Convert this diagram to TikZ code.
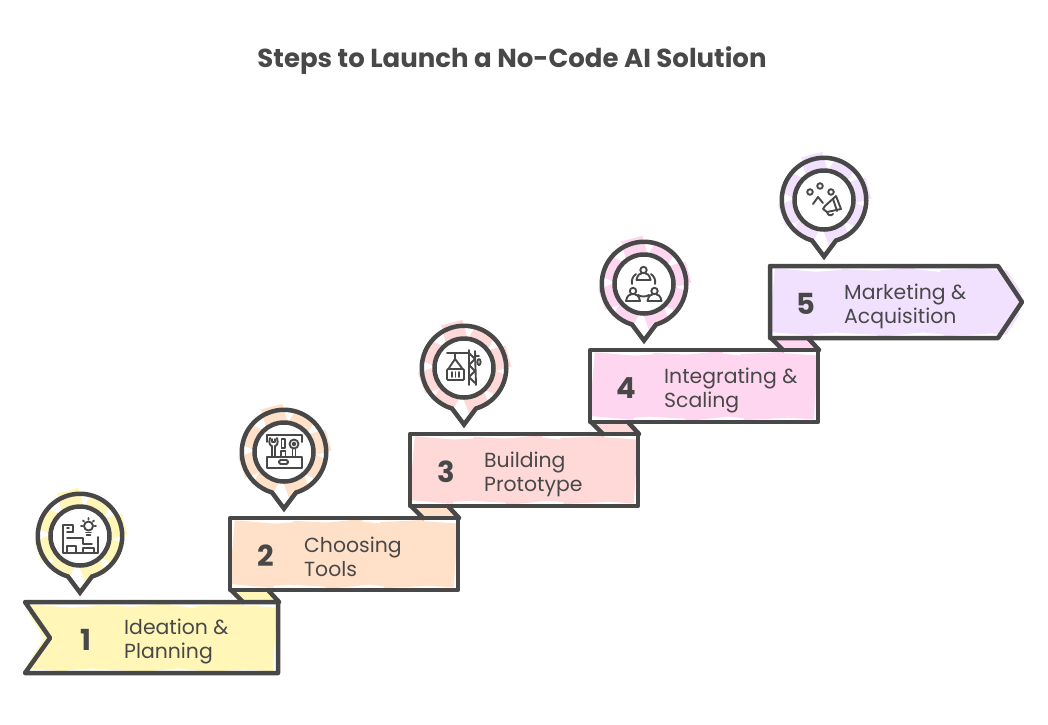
\documentclass[tikz,border=0pt]{standalone}
\usepackage{fontspec}
\setmainfont{Poppins}
\definecolor{ink}{HTML}{484848}
\definecolor{cA}{HTML}{FFF6B8}
\definecolor{cB}{HTML}{FFE0C8}
\definecolor{cC}{HTML}{FFD8D8}
\definecolor{cD}{HTML}{FFD6F0}
\definecolor{cE}{HTML}{F2E0FF}
\tikzset{
  x=1pt,y=-1pt,
  outline/.style={draw=ink,line width=4.5pt,line join=round,line cap=round},
  ring/.style={draw=ink,line width=4.5pt},
  icon/.style={draw=ink,line width=1.9pt,line cap=round,line join=round},
  titletext/.style={font=\fontsize{26}{30}\selectfont\bfseries,text=ink,inner sep=0pt},
  numtext/.style={font=\fontsize{29}{32}\selectfont\bfseries,text=ink,inner sep=0pt},
  bodytext/.style={font=\fontsize{20.4}{24}\selectfont,text=ink,inner sep=0pt,align=left,anchor=west},
}
% #1 x, #2 y, #3 colour, #4 spacing : row of slightly tilted strips
\newcommand{\stripsrow}[4]{%
  \foreach \k/\r/\h in {0/-5/32,1/4/31,2/-3/32,3/6/33,4/-6/31,5/3/33,6/-4/32}{
    \fill[#3,shift={(#1+24+\k*#4,#2+36)},rotate=\r] (-22,-\h) rectangle (22,\h);
  }}
% #1 cx, #2 cy, #3 colour, #4 name of the ring
\newcommand{\pinmark}[4]{%
  \foreach \a/\o in {20/44,65/40,105/46,150/42,195/47,245/40,290/45,330/41}{
    \fill[#3,shift={(#1,#2)},rotate=\a] (-11,26) rectangle (11,\o);
  }
  \path[ring,shift={(#1,#2)}] (0,56.5) -- (12,40.5)
     arc[start angle=-73.5,delta angle=327,radius=42.24pt] -- cycle;
  \node[circle,minimum size=59pt,inner sep=0pt,draw=ink,line width=4.5pt,fill=white] (#4) at (#1,#2) {};
}
\begin{document}
\begin{tikzpicture}
\useasboundingbox (0,0) rectangle (1048,724);
\node[titletext] (title) at (512,61) {Steps to Launch a No-Code AI Solution};

% ---------- step 1
\pinmark{80}{536}{cA}{pinA}
\begin{scope}
  \clip (18,596) -- (44,638) -- (18,680) -- (285,680) -- (285,596) -- cycle;
  \stripsrow{25}{602}{cA}{34}
\end{scope}
\fill[cA] (231,590) -- (243,602) -- (279,602) -- (268,590) -- cycle;
\draw[outline] (231,590) -- (243,602) (268,590) -- (279,602);
\draw[outline] (25,602) -- (50,638) -- (25,673) -- (278,673) -- (278,602) -- cycle;
\node[numtext] (numA) at (86,640) {1};
\node[bodytext] (txtA) at (124,641) {Ideation \&\\Planning};
\begin{scope}[shift={(80,536)}]
  \draw[icon] (-7,-4) -- (-7,-11) -- (-17,-11) -- (-17,17) -- (18,17) -- (18,1);
  \draw[icon] (-7,-4) -- (-13,-4) (-13,2) -- (-3,2) -- (3,2) -- (3,8) -- (12,8);
  \draw[icon] (-13,-8) -- (-11,-8) (-13,17) -- (-13,10) -- (-4,10) -- (-4,17);
  \draw[icon] (3,17) -- (3,12) -- (14,12) -- (14,17);
  \draw[icon] (8.5,-10) circle[radius=4.5pt];
  \draw[icon] (6,-3.5) -- (11,-3.5) (6.5,-1) -- (10.5,-1);
  \draw[icon] (8.5,-18) -- (8.5,-16.5) (1,-10) -- (2.5,-10) (14.5,-10) -- (16,-10)
     (3,-15.5) -- (4,-14.5) (14,-15.5) -- (13,-14.5);
\end{scope}

% ---------- step 2
\pinmark{284}{452}{cB}{pinB}
\stripsrow{230}{518}{cB}{30}
\fill[cB] (411,506) -- (423,518) -- (459,518) -- (448,506) -- cycle;
\draw[outline] (411,506) -- (423,518) (448,506) -- (459,518);
\draw[outline] (230,518) rectangle (458,590);
\node[numtext] (numB) at (266,556) {2};
\node[bodytext] (txtB) at (304,557) {Choosing\\Tools};
\begin{scope}[shift={(284,452)}]
  \draw[icon] (-17,-10) -- (-17,-17) -- (18,-17) -- (18,-10);
  \draw[icon] (-17,5) rectangle (18,16);
  \draw[icon,rounded corners=1.5pt] (-5,8) rectangle (4,12);
  \draw[icon] (-14,-14) .. controls (-16,-8) and (-13,-6) .. (-12,-6) -- (-12,5)
      (-9,5) -- (-9,-6) .. controls (-8,-6) and (-5,-8) .. (-7,-14)
      (-12,-13) -- (-12,-10) -- (-9,-10) -- (-9,-13);
  \draw[icon] (-2.5,-13) -- (1,-13) -- (1,-4) -- (-2.5,-4) -- cycle;
  \draw[icon] (-3,5) -- (-3,-1) -- (1.5,-1) -- (1.5,5);
  \draw[icon] (10,-8) circle[radius=4.5pt];
  \draw[icon] (10,-8) circle[radius=1.5pt];
  \draw[icon] (8.5,5) -- (8.5,-3) (11.5,5) -- (11.5,-3);
\end{scope}

% ---------- step 3
\pinmark{464}{368}{cC}{pinC}
\stripsrow{410}{434}{cC}{30}
\fill[cC] (591,422) -- (603,434) -- (639,434) -- (628,422) -- cycle;
\draw[outline] (591,422) -- (603,434) (628,422) -- (639,434);
\draw[outline] (410,434) rectangle (638,506);
\node[numtext] (numC) at (446,472) {3};
\node[bodytext] (txtC) at (484,474) {Building\\Prototype};
\begin{scope}[shift={(464,368)}]
  \draw[icon] (-17,-15) -- (5,-15);
  \draw[icon] (-9,-15) -- (-9,-9) -- (-15,0) (-9,-9) -- (-2,0);
  \draw[icon,rounded corners=1pt] (-17,1) rectangle (0,12);
  \draw[icon] (-12,4) -- (-12,9) (-8.5,4) -- (-8.5,9) (-5,4) -- (-5,9);
  \draw[icon] (5,-18) -- (5,17) (11,-17) -- (12,17);
  \draw[icon] (5,-15) -- (11,-9) -- (5,-3) -- (11,3) -- (5,9) -- (11,15);
  \draw[icon] (11,-12) -- (15,-12) (15,-6) ellipse[x radius=1.6pt,y radius=3pt];
\end{scope}

% ---------- step 4
\pinmark{644}{284}{cD}{pinD}
\stripsrow{590}{350}{cD}{30}
\fill[cD] (771,338) -- (783,350) -- (819,350) -- (808,338) -- cycle;
\draw[outline] (771,338) -- (783,350) (808,338) -- (819,350);
\draw[outline] (590,350) rectangle (818,422);
\node[numtext] (numD) at (626,388) {4};
\node[bodytext] (txtD) at (664,390) {Integrating \&\\Scaling};
\begin{scope}[shift={(644,284)}]
  \foreach \px/\py in {-0.5/-14,-11/7,10.5/7}{
    \draw[icon] (\px,\py) circle[radius=3.2pt];
    \draw[icon] (\px-7,\py+10) .. controls (\px-6,\py+4) and (\px-3,\py+3.5) .. (\px-2,\py+3.5)
       (\px+2,\py+3.5) .. controls (\px+3,\py+3.5) and (\px+6,\py+4) .. (\px+7,\py+10);
    \draw[icon] (\px-7,\py+10) -- (\px+7,\py+10);
  }
  \draw[icon] (-6,11) .. controls (-3,13) and (2,13) .. (5,11);
  \draw[icon] (-12,0) .. controls (-13,-4) and (-11,-8) .. (-8,-10);
  \draw[icon] (11,0) .. controls (12,-4) and (10,-8) .. (7,-10);
\end{scope}

% ---------- step 5
\pinmark{824}{200}{cE}{pinE}
\begin{scope}
  \clip (764,260) -- (1000,260) -- (1028,302) -- (1000,344) -- (764,344) -- cycle;
  \stripsrow{770}{266}{cE}{34}
\end{scope}
\draw[outline] (770,266) -- (998,266) -- (1022,302) -- (998,338) -- (770,338) -- cycle;
\node[numtext] (numE) at (806,304) {5};
\node[bodytext] (txtE) at (844,306) {Marketing \&\\Acquisition};
\begin{scope}[shift={(824,200)}]
  \draw[icon] (-14,-8) circle[radius=2.8pt];
  \draw[icon] (-4,-14) circle[radius=2.8pt];
  \draw[icon] (7,-8) circle[radius=2.8pt];
  \draw[icon] (-11,4) -- (-6,-3) -- (-1,3);
  \draw[icon] (-1,9) -- (1,6) -- (12,-4) -- (17,9) -- (3,12) -- (-1,9);
  \draw[icon] (9,-1) -- (13,11) (3,12) .. controls (4,16) and (7,16) .. (9,14);
\end{scope}
\end{tikzpicture}
\end{document}
